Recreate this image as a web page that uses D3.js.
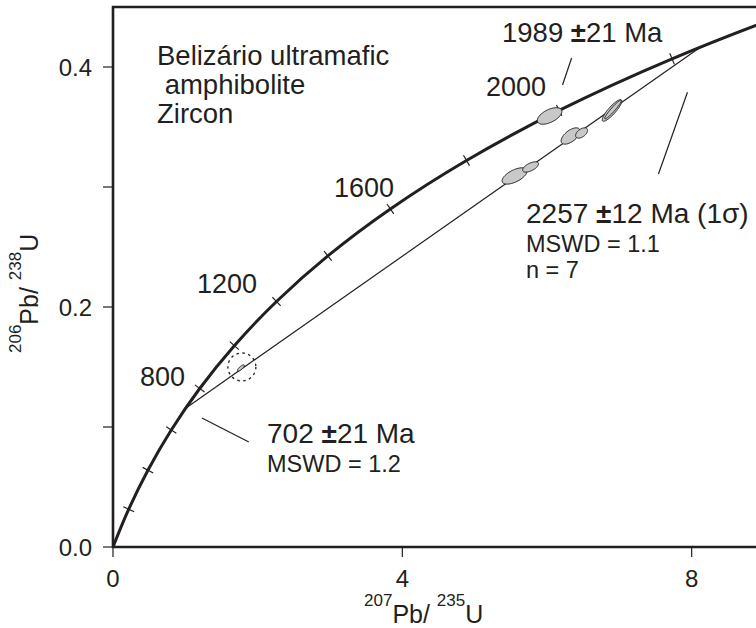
<!DOCTYPE html>
<html><head><meta charset="utf-8">
<script src="https://cdn.jsdelivr.net/npm/d3@7"></script>
<style>body{margin:0;background:#fff}svg{display:block;font-family:"Liberation Sans",Arial,sans-serif}</style>
</head><body><svg id="c" width="756" height="628"></svg>
<script>
// Concordia reference points (age in Ma, 207Pb/235U, 206Pb/238U)
const concordiaAge = [0,200,400,600,800,1000,1200,1400,1600,1800,2000,2200,2400,2600];
const concordia207 = [0,0.2177,0.4828,0.8057,1.1987,1.6774,2.2604,2.9703,3.8348,4.8870,6.1680,7.7291,9.6302,11.945];
const concordia206 = [0,0.0315,0.0640,0.0975,0.1321,0.1678,0.2046,0.2426,0.2817,0.3221,0.3638,0.4068,0.4511,0.4968];
const tickAges = [200,400,600,800,1000,1200,1400,1600,1800,2000,2200];
const ageLabels = ["800","1200","1600","2000"];
// Discordia intercepts (207/235, 206/238)
const discordia207 = [1.0, 8.12];
const discordia206 = [0.1155, 0.4165];
// Zircon analyses: centre, 1-sigma extents, correlation
const spotNames = ["A","E","F","C","D","B1","B2","G"];
const spot207 = [6.036,5.552,5.773,6.326,6.478,6.899,6.913,1.768];
const spot206 = [0.3592,0.3092,0.3167,0.3425,0.3450,0.3638,0.3646,0.1492];
const spotSx = [0.170,0.173,0.110,0.131,0.083,0.135,0.115,0.048];
const spotSy = [0.0069,0.0068,0.0043,0.0068,0.0043,0.0090,0.0078,0.0026];
const spotRho = [0.55,0.6,0.6,0.6,0.5,0.87,0.95,0.8];
const xTicks = [0,4,8];
const xTickLabels = ["0","4","8"];
const yTicks = [0,0.1,0.2,0.3,0.4];
const yTickLabels = {0:"0.0",0.2:"0.2",0.4:"0.4"};

const ink = "#231f20";
const svg = d3.select("#c");
const x = d3.scaleLinear().domain([0,9]).range([113,764]);
const y = d3.scaleLinear().domain([0,0.45]).range([547,7]);

const clipId="plotclip";
svg.append("clipPath").attr("id",clipId).append("rect")
  .attr("x",x(0)).attr("y",y(0.45)).attr("width",x(9)-x(0)).attr("height",y(0)-y(0.45));
const plot = svg.append("g").attr("clip-path",`url(#${clipId})`);

// discordia
plot.append("line")
  .attr("x1",x(discordia207[0])).attr("y1",y(discordia206[0]))
  .attr("x2",x(discordia207[1])).attr("y2",y(discordia206[1]))
  .attr("stroke",ink).attr("stroke-width",1.2);

// concordia curve
const cpts = concordiaAge.map((a,i)=>[concordia207[i],concordia206[i]]);
plot.append("path").datum(cpts)
  .attr("d",d3.line().x(d=>x(d[0])).y(d=>y(d[1])).curve(d3.curveCatmullRom.alpha(0.5)))
  .attr("fill","none").attr("stroke",ink).attr("stroke-width",3);

// concordia age ticks
tickAges.forEach(a=>{
  const i = concordiaAge.indexOf(a);
  const px=x(concordia207[i]), py=y(concordia206[i]);
  const dx=x(concordia207[i+1])-x(concordia207[i-1]);
  const dy=y(concordia206[i+1])-y(concordia206[i-1]);
  const L=Math.hypot(dx,dy), nx=-dy/L, ny=dx/L, h=6;
  plot.append("line").attr("x1",px-nx*h).attr("y1",py-ny*h).attr("x2",px+nx*h).attr("y2",py+ny*h)
    .attr("stroke",ink).attr("stroke-width",1.2);
});

// ellipses
spotNames.forEach((n,i)=>{
  const pts=d3.range(0,73).map(k=>{
    const t=k/72*2*Math.PI;
    const ex=spot207[i]+spotSx[i]*Math.cos(t);
    const ey=spot206[i]+spotSy[i]*(spotRho[i]*Math.cos(t)+Math.sqrt(1-spotRho[i]*spotRho[i])*Math.sin(t));
    return [x(ex),y(ey)];
  });
  plot.append("path").attr("d",d3.line().curve(d3.curveLinearClosed)(pts))
    .attr("fill","#c8c8c8").attr("stroke",ink).attr("stroke-width",1);
});
// dashed circle round the small analysis
plot.append("circle").attr("cx",x(spot207[7])+1).attr("cy",y(spot206[7])-1).attr("r",14)
  .attr("fill","none").attr("stroke",ink).attr("stroke-width",1.3).attr("stroke-dasharray","2.5,3.5");

// frame
svg.append("path").attr("d",`M${x(9)},${y(0.45)}H${x(0)}V${y(0)}H${x(9)}`)
  .attr("fill","none").attr("stroke",ink).attr("stroke-width",2.6);

// axis ticks and labels
xTicks.forEach((v,i)=>{
  svg.append("line").attr("x1",x(v)).attr("x2",x(v)).attr("y1",y(0)).attr("y2",y(0)+10).attr("stroke",ink).attr("stroke-width",1.2);
  svg.append("text").attr("x",x(v)).attr("y",587).attr("text-anchor","middle").attr("font-size",24).attr("fill",ink).text(xTickLabels[i]);
});
yTicks.forEach(v=>{
  svg.append("line").attr("x1",x(0)-10).attr("x2",x(0)).attr("y1",y(v)).attr("y2",y(v)).attr("stroke",ink).attr("stroke-width",1.2);
  if(yTickLabels[v]!==undefined)
    svg.append("text").attr("x",92).attr("y",y(v)+8.5).attr("text-anchor","end").attr("font-size",24).attr("fill",ink).text(yTickLabels[v]);
});

// axis titles
function isoTitle(sel, sup1, base1, sup2, base2){
  sel.append("tspan").attr("font-size",17).attr("dy",-17).text(sup1);
  sel.append("tspan").attr("font-size",25).attr("dy",17).text(base1);
  sel.append("tspan").attr("font-size",17).attr("dy",-17).text(sup2);
  sel.append("tspan").attr("font-size",25).attr("dy",17).text(base2);
}
isoTitle(svg.append("text").attr("x",364).attr("y",623).attr("fill",ink),"207","Pb/ ","235","U");
isoTitle(svg.append("text").attr("transform","translate(38,353) rotate(-90)").attr("fill",ink),"206","Pb/ ","238","U");

// annotation text
function label(xp,yp,size,parts){
  const t=svg.append("text").attr("x",xp).attr("y",yp).attr("font-size",size).attr("fill",ink).attr("xml:space","preserve");
  parts.forEach(p=>t.append("tspan").attr("font-weight",p[1]?"bold":null).text(p[0]));
}
label(157,65,27.5,[["Belizário ultramafic"]]);
label(157,94,27.5,[[" amphibolite"]]);
label(157,123,27.5,[["Zircon"]]);
const ageLabelPos = {"800":[140,386],"1200":[197,293],"1600":[334,197],"2000":[486,96]};
ageLabels.forEach(a=>label(ageLabelPos[a][0],ageLabelPos[a][1],27,[[a]]));
label(502,42,27.5,[["1989 "],["±",true],["21 Ma"]]);
label(526,223,28,[["2257 "],["±",true],["12 Ma (1σ)"]]);
label(526,252,23.5,[["MSWD = 1.1"]]);
label(526,278,23.5,[["n = 7"]]);
label(267,443,28,[["702 "],["±",true],["21 Ma"]]);
label(267,472,23.5,[["MSWD = 1.2"]]);

// leader lines
const leaders=[[[6.215,0.385],[6.340,0.4075]],[[7.942,0.379],[7.541,0.3108]],[[1.229,0.1075],[1.878,0.0875]]];
leaders.forEach(l=>svg.append("line").attr("x1",x(l[0][0])).attr("y1",y(l[0][1])).attr("x2",x(l[1][0])).attr("y2",y(l[1][1])).attr("stroke",ink).attr("stroke-width",1.2));
</script></body></html>
